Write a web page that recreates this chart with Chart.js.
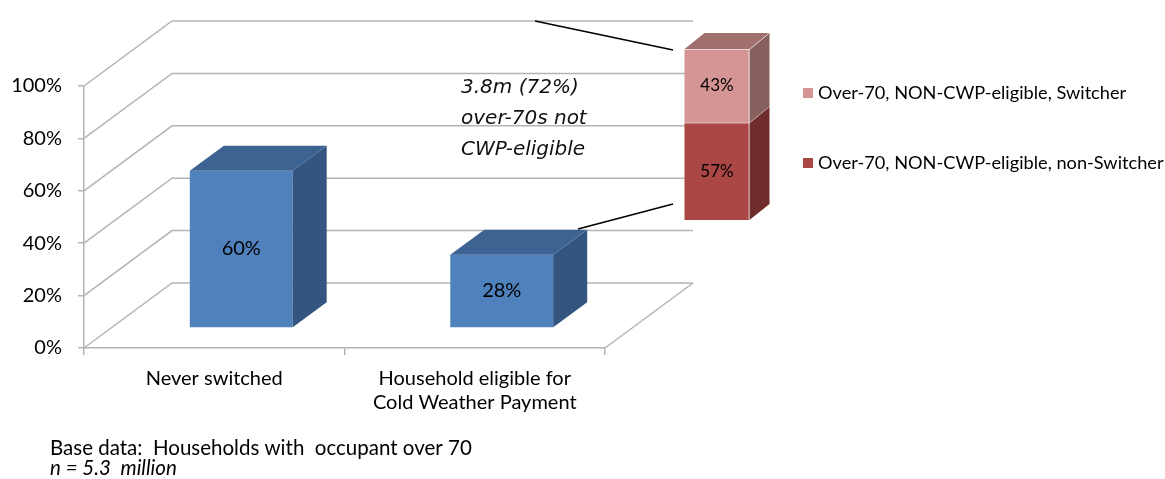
<!DOCTYPE html>
<html><head><meta charset="utf-8">
<script src="https://cdn.jsdelivr.net/npm/chart.js@4/dist/chart.umd.min.js"></script>
<style>
html,body{margin:0;padding:0;background:#fff;}
#wrap{position:relative;width:1165px;height:479px;overflow:hidden;}
canvas{position:absolute;left:0;top:0;}
</style></head><body>
<div id="wrap"><canvas id="main" width="1165" height="479"></canvas><canvas id="inset" width="1165" height="479"></canvas></div>
<script>
// ---- data ----
const categories = [["Never switched"], ["Household eligible for", "Cold Weather Payment"]];
const mainValues = [60, 28];
const yTickValues = [0, 20, 40, 60, 80, 100];
const insetLabels = ["Over-70, NON-CWP-eligible, non-Switcher", "Over-70, NON-CWP-eligible, Switcher"];
const insetValues = [57, 43];
const annotationLines = ["3.8m (72%)", "over-70s not", "CWP-eligible"];
const footnoteLines = ["Base data:  Households with  occupant over 70", "n = 5.3  million"];

// ---- style ----
const FONT = 'Lato, "Open Sans", sans-serif';
const GRID = '#b4b4b4';
const WALL = {dx: 88, dy: -65};
const BAR_FRONT = {dx: 27, dy: -20};
const BAR_DEPTH = {dx: 34, dy: -25};
const INSET_DEPTH = {dx: 20, dy: -16};
const BLUE = {front: '#4F81BD', top: '#3D6392', side: '#34557F'};
const INSET_COLORS = [
  {front: '#AA4644', top: '#8E3A38', side: '#6E2C2A', legend: '#AA4644'},
  {front: '#D59594', top: '#A0706F', side: '#875F5E', legend: '#D59594'}
];

function drawBox(ctx, x0, x1, yTop, yBot, d, c, withTop) {
  ctx.fillStyle = c.front;
  ctx.fillRect(x0, yTop, x1 - x0, yBot - yTop);
  ctx.fillStyle = c.side;
  ctx.beginPath();
  ctx.moveTo(x1, yTop); ctx.lineTo(x1 + d.dx, yTop + d.dy);
  ctx.lineTo(x1 + d.dx, yBot + d.dy); ctx.lineTo(x1, yBot);
  ctx.closePath(); ctx.fill();
  if (withTop) {
    ctx.fillStyle = c.top;
    ctx.beginPath();
    ctx.moveTo(x0, yTop); ctx.lineTo(x0 + d.dx, yTop + d.dy);
    ctx.lineTo(x1 + d.dx, yTop + d.dy); ctx.lineTo(x1, yTop);
    ctx.closePath(); ctx.fill();
  }
}

const mainPlugin = {
  id: 'threeD',
  beforeDatasetsDraw(chart) {
    const ctx = chart.ctx, y = chart.scales.y;
    const {left, right} = chart.chartArea;
    const backRight = right + WALL.dx;
    ctx.save();
    ctx.strokeStyle = GRID; ctx.lineWidth = 1.5;
    y.ticks.forEach(t => {
      const py = y.getPixelForValue(t.value);
      ctx.beginPath();
      ctx.moveTo(left, py);
      ctx.lineTo(left + WALL.dx, py + WALL.dy);
      ctx.lineTo(backRight, py + WALL.dy);
      ctx.stroke();
    });
    const p0 = y.getPixelForValue(0);
    ctx.beginPath(); ctx.moveTo(right, p0); ctx.lineTo(backRight, p0 + WALL.dy); ctx.stroke();
    ctx.restore();
  },
  afterDatasetsDraw(chart) {
    const ctx = chart.ctx;
    const meta = chart.getDatasetMeta(0);
    ctx.save();
    meta.data.forEach((el, i) => {
      const p = el.getProps(['x', 'y', 'base', 'width'], true);
      const x0 = p.x - p.width / 2 + BAR_FRONT.dx, x1 = p.x + p.width / 2 + BAR_FRONT.dx;
      const yT = p.y + BAR_FRONT.dy, yB = p.base + BAR_FRONT.dy;
      drawBox(ctx, x0, x1, yT, yB, BAR_DEPTH, BLUE, true);
      ctx.fillStyle = '#000';
      ctx.font = '20px ' + FONT;
      ctx.textAlign = 'center'; ctx.textBaseline = 'middle';
      ctx.fillText(chart.data.datasets[0].data[i] + '%', (x0 + x1) / 2, (yT + yB) / 2);
    });
    ctx.restore();
  },
  afterDraw(chart) {
    const ctx = chart.ctx;
    ctx.save();
    // connector lines
    ctx.strokeStyle = '#000'; ctx.lineWidth = 1.6;
    ctx.beginPath(); ctx.moveTo(535, 21); ctx.lineTo(673, 50); ctx.stroke();
    ctx.beginPath(); ctx.moveTo(578, 229); ctx.lineTo(673, 204); ctx.stroke();
    // annotation
    ctx.fillStyle = '#111';
    ctx.font = 'italic 20px "DejaVu Sans"';
    ctx.textAlign = 'left'; ctx.textBaseline = 'middle';
    annotationLines.forEach((s, i) => ctx.fillText(s, 461, 88 + i * 31));
    // footnote
    ctx.fillStyle = '#000';
    ctx.font = '20.5px ' + FONT;
    ctx.fillText(footnoteLines[0], 50, 448);
    ctx.font = 'italic 20.5px ' + FONT;
    ctx.fillText(footnoteLines[1], 50, 468);
    ctx.restore();
  }
};

new Chart(document.getElementById('main'), {
  type: 'bar',
  data: {
    labels: categories,
    datasets: [{data: mainValues, backgroundColor: 'rgba(0,0,0,0)', borderWidth: 0}]
  },
  options: {
    responsive: false, animation: false,
    layout: {padding: {left: 0, top: 86, right: 560, bottom: 0}},
    plugins: {legend: {display: false}, tooltip: {enabled: false}},
    datasets: {bar: {categoryPercentage: 1, barPercentage: 0.395}},
    scales: {
      x: {
        afterFit(s) { s.height = 131; },
        grid: {drawOnChartArea: false, drawTicks: true, tickLength: 7, color: GRID, lineWidth: 1.5, offset: true},
        border: {color: GRID, width: 1.5},
        ticks: {color: '#000', font: {family: FONT, size: 20}, padding: 12, maxRotation: 0}
      },
      y: {
        min: 0, max: 100,
        afterFit(s) { s.width = 84; },
        afterBuildTicks(s) { s.ticks = yTickValues.map(v => ({value: v})); },
        grid: {drawOnChartArea: false, drawTicks: true, tickLength: 6, color: GRID, lineWidth: 1.5},
        border: {color: GRID, width: 1.5},
        ticks: {color: '#000', font: {family: FONT, size: 20}, padding: 16, callback: v => v + '%'}
      }
    }
  },
  plugins: [mainPlugin]
});

const insetPlugin = {
  id: 'inset3D',
  afterDatasetsDraw(chart) {
    const ctx = chart.ctx;
    const n = chart.data.datasets.length;
    ctx.save();
    chart.data.datasets.forEach((ds, i) => {
      const el = chart.getDatasetMeta(i).data[0];
      const p = el.getProps(['x', 'y', 'base', 'width'], true);
      const x0 = p.x - p.width / 2, x1 = p.x + p.width / 2;
      drawBox(ctx, x0, x1, p.y, p.base, INSET_DEPTH, INSET_COLORS[i], i === n - 1);
      // light edges
      ctx.strokeStyle = 'rgba(255,255,255,0.6)'; ctx.lineWidth = 1;
      ctx.beginPath(); ctx.moveTo(x0, p.y + 0.5); ctx.lineTo(x1, p.y + 0.5);
      ctx.lineTo(x1 + INSET_DEPTH.dx, p.y + INSET_DEPTH.dy); ctx.stroke();
      ctx.beginPath(); ctx.moveTo(x1 - 0.5, p.y); ctx.lineTo(x1 - 0.5, p.base); ctx.stroke();
      ctx.fillStyle = '#000';
      ctx.font = '17px ' + FONT;
      ctx.textAlign = 'center'; ctx.textBaseline = 'middle';
      ctx.fillText(ds.data[0] + '%', p.x, (p.y + p.base) / 2);
    });
    ctx.restore();
  },
  afterDraw(chart) {
    const ctx = chart.ctx;
    const ds = chart.data.datasets;
    ctx.save();
    ctx.font = '18.2px ' + FONT;
    ctx.textAlign = 'left'; ctx.textBaseline = 'middle';
    for (let k = 0; k < ds.length; k++) {
      const i = ds.length - 1 - k;
      const cy = 93 + k * 70;
      ctx.fillStyle = INSET_COLORS[i].legend;
      ctx.fillRect(803, cy - 5, 10, 10);
      ctx.fillStyle = '#000';
      ctx.fillText(ds[i].label, 818, cy);
    }
    ctx.restore();
  }
};

new Chart(document.getElementById('inset'), {
  type: 'bar',
  data: {
    labels: [''],
    datasets: insetValues.map((v, i) => ({label: insetLabels[i], data: [v], backgroundColor: 'rgba(0,0,0,0)', borderWidth: 0}))
  },
  options: {
    responsive: false, animation: false,
    layout: {padding: {left: 652, right: 383, top: 49, bottom: 259}},
    plugins: {legend: {display: false}, tooltip: {enabled: false}},
    datasets: {bar: {categoryPercentage: 1, barPercentage: 0.5}},
    scales: {
      x: {display: false, stacked: true},
      y: {display: false, stacked: true, min: 0, max: 100}
    }
  },
  plugins: [insetPlugin]
});
</script>
</body></html>
